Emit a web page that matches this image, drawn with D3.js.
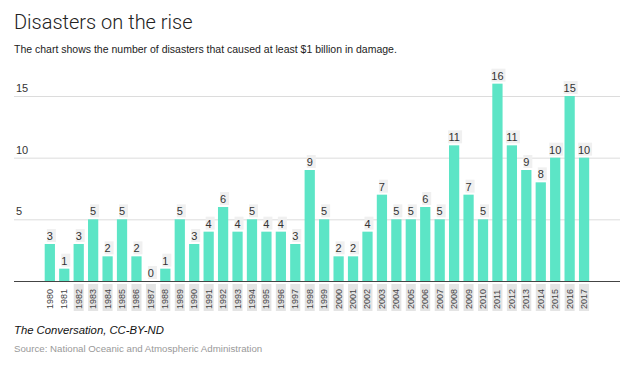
<!DOCTYPE html>
<html>
<head>
<meta charset="utf-8">
<script src="https://cdn.jsdelivr.net/npm/d3@7"></script>
<style>
  body { margin: 0; background: #fff; }
  svg { font-family: "Liberation Sans", Arial, sans-serif; }
</style>
</head>
<body>
<div id="chart"></div>
<script>
var years = ["1980","1981","1982","1983","1984","1985","1986","1987","1988","1989",
    "1990","1991","1992","1993","1994","1995","1996","1997","1998","1999",
    "2000","2001","2002","2003","2004","2005","2006","2007","2008","2009",
    "2010","2011","2012","2013","2014","2015","2016","2017"];
var disasters = [3,1,3,5,2,5,2,0,1,5, 3,4,6,4,5,4,4,3,9,5, 2,2,4,7,5,5,6,5,11,7, 5,16,11,9,8,10,15,10];
var yTicks = [5, 10, 15];

var full_width = 640,
    full_height = 382;

var margin = { top: 60, left: 14, right: 20, baseline: 281 };

var svg = d3.select("#chart")
    .append("svg")
    .attr("width", full_width)
    .attr("height", full_height);

// Title and subtitle
svg.append("text")
    .attr("x", 14).attr("y", 29)
    .style("font-family", "Roboto, 'Liberation Sans', sans-serif")
    .style("font-weight", 300)
    .style("font-size", "20px")
    .style("fill", "#222")
    .text("Disasters on the rise");

svg.append("text")
    .attr("x", 14).attr("y", 53)
    .style("font-size", "10.5px")
    .style("fill", "#222")
    .text("The chart shows the number of disasters that caused at least $1 billion in damage.");

var x = d3.scaleBand()
    .domain(years)
    .range([44.7, 589.2])
    .paddingInner(0.29)
    .paddingOuter(0);

var y = d3.scaleLinear()
    .domain([0, 15])
    .range([margin.baseline, 96]);

// Gridlines
var grid = svg.append("g");
grid.selectAll("line")
    .data(yTicks)
    .enter()
    .append("line")
    .attr("x1", 14).attr("x2", 620)
    .attr("y1", function(d) { return y(d) + 0.5; })
    .attr("y2", function(d) { return y(d) + 0.5; })
    .style("stroke", "#dcdcdc")
    .style("stroke-width", 1);

grid.selectAll("text")
    .data(yTicks)
    .enter()
    .append("text")
    .attr("x", 16)
    .attr("y", function(d) { return y(d) - 4; })
    .style("font-size", "11px")
    .style("fill", "#333")
    .text(function(d) { return d; });

// Bars
svg.append("g").selectAll("rect")
    .data(disasters)
    .enter()
    .append("rect")
    .attr("x", function(d, i) { return x(years[i]); })
    .attr("y", function(d) { return y(d); })
    .attr("width", x.bandwidth())
    .attr("height", function(d) { return y(0) - y(d); })
    .style("fill", "#5ce5c6");

// Value labels
var vals = svg.append("g").selectAll("g")
    .data(disasters)
    .enter()
    .append("g")
    .attr("transform", function(d, i) {
        return "translate(" + (x(years[i]) + x.bandwidth() / 2) + "," + (y(d) - 4) + ")";
    });

vals.append("rect")
    .attr("x", function(d) { return String(d).length > 1 ? -6 : -3; })
    .attr("y", -11)
    .attr("width", function(d) { return String(d).length > 1 ? 14 : 9; })
    .attr("height", 13)
    .style("fill", "#f0f0f0");

vals.append("text")
    .attr("text-anchor", "middle")
    .style("font-size", "11px")
    .style("fill", "#333")
    .text(function(d) { return d; });

// Baseline
svg.append("line")
    .attr("x1", 14).attr("x2", 620)
    .attr("y1", y(0) + 0.5).attr("y2", y(0) + 0.5)
    .style("stroke", "#444")
    .style("stroke-width", 1);

// Year labels
var yearLabels = svg.append("g").selectAll("g")
    .data(years)
    .enter()
    .append("g")
    .attr("transform", function(d) {
        return "translate(" + (x(d) + x.bandwidth() / 2) + "," + (y(0) + 3) + ")";
    });

yearLabels.append("rect")
    .attr("x", -5)
    .attr("y", 0)
    .attr("width", 10)
    .attr("height", 27)
    .style("fill", function(d, i) { return i < 2 ? "none" : "#e4e4e4"; });

yearLabels.append("text")
    .attr("transform", "rotate(-90)")
    .attr("x", -25)
    .attr("y", 3)
    .style("font-size", "9px")
    .style("fill", "#444")
    .text(function(d) { return d; });

// Footer
svg.append("text")
    .attr("x", 14).attr("y", 334)
    .style("font-size", "11.3px")
    .style("font-style", "italic")
    .style("fill", "#111")
    .text("The Conversation, CC-BY-ND");

svg.append("text")
    .attr("x", 14).attr("y", 352)
    .style("font-size", "9.7px")
    .style("fill", "#999")
    .text("Source: National Oceanic and Atmospheric Administration");
</script>
</body>
</html>
